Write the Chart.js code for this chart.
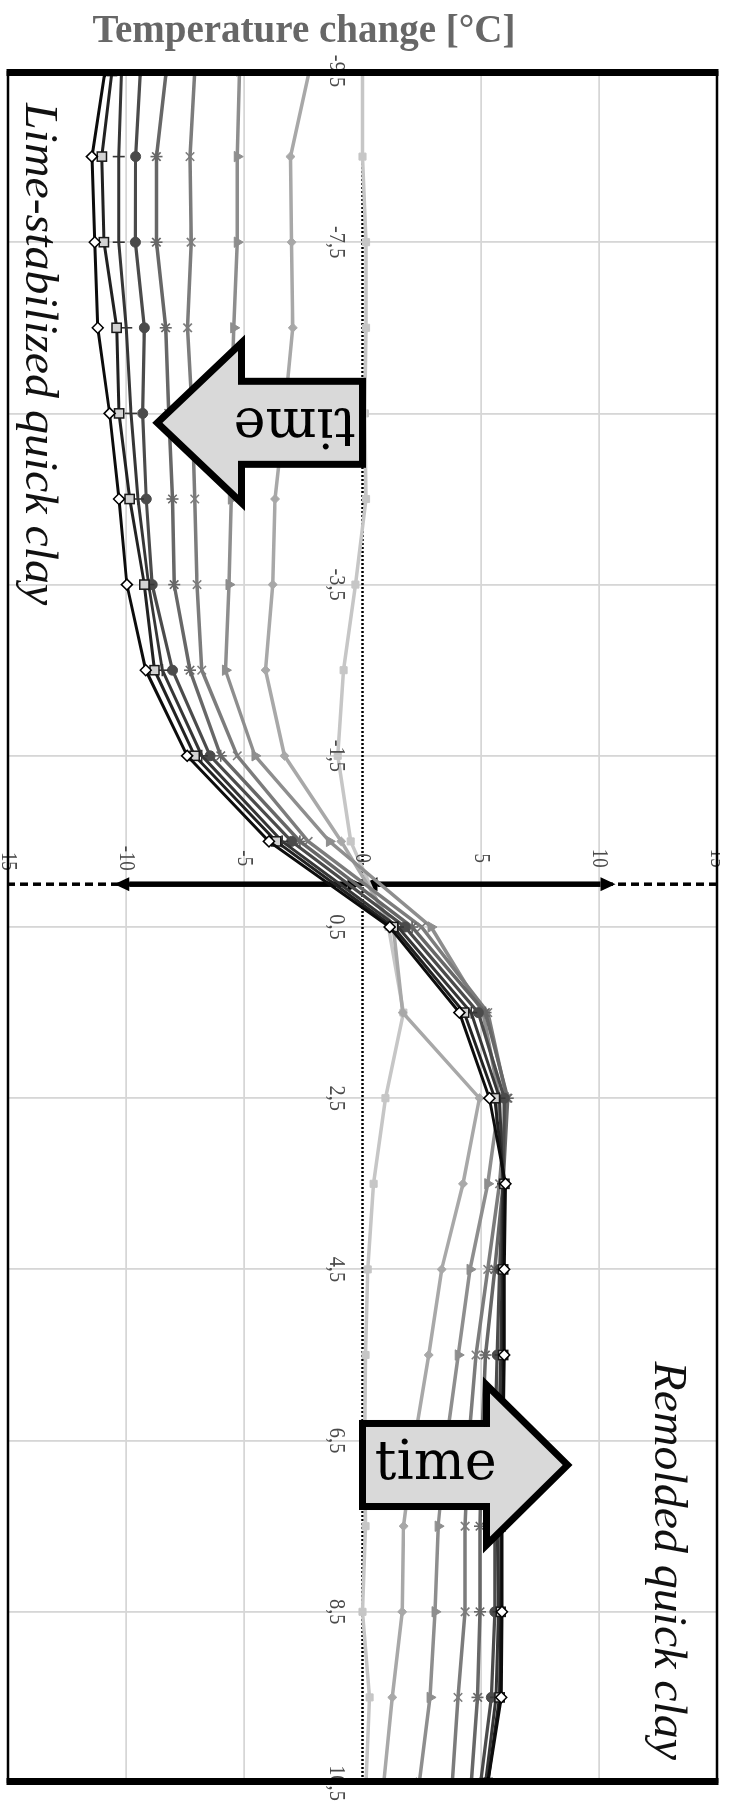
<!DOCTYPE html>
<html>
<head>
<meta charset="utf-8">
<script src="https://cdn.jsdelivr.net/npm/chart.js@4.4.1/dist/chart.umd.min.js"></script>
<style>
  html, body { margin: 0; padding: 0; background: #fff; }
  body { width: 729px; height: 1804px; position: relative; overflow: hidden; }
  /* the plot is laid out lying on its side and turned a quarter turn clockwise */
  #frame { position: absolute; left: 0; top: 0; width: 1804px; height: 729px;
           transform-origin: 0 0; transform: translate(729px, 0) rotate(90deg); }
  #title { position: absolute; left: 0; top: 9px; width: 608px; text-align: center;
           font: bold 39px "Liberation Serif", "Times New Roman", serif; line-height: 40px;
           color: #676767; white-space: nowrap; }
</style>
</head>
<body>
<div id="frame"><canvas id="c" width="1804" height="729"></canvas></div>
<div id="title">Temperature change [°C]</div>
<script>
// distance from the boundary (m) at which the temperature was logged
const distance = [-9.5, -8.5, -7.5, -6.5, -5.5, -4.5, -3.5, -2.5, -1.5, -0.5,
                  0.5, 1.5, 2.5, 3.5, 4.5, 5.5, 6.5, 7.5, 8.5, 9.5, 10.5];
const distanceTicks = [-9.5, -7.5, -5.5, -3.5, -1.5, 0.5, 2.5, 4.5, 6.5, 8.5, 10.5];
const tempTicks = [-15, -10, -5, 0, 5, 10, 15];

// temperature change profiles, earliest reading first
const curve1 = [0.0, 0.0, 0.15, 0.15, 0.1, 0.15, -0.3, -0.8, -1.05, -0.5,
                1.1, 1.73, 0.97, 0.47, 0.22, 0.13, 0.1, 0.13, 0.0, 0.3, 0.15];
const curve2 = [-2.25, -3.05, -3.0, -2.95, -3.3, -3.7, -3.8, -4.1, -3.3, -0.9,
                1.3, 1.7, 4.95, 4.25, 3.35, 2.8, 2.2, 1.74, 1.68, 1.26, 0.9];
const curve3 = [-5.2, -5.3, -5.3, -5.45, -5.55, -5.55, -5.65, -5.8, -4.55, -1.4,
                2.9, 5.1, 5.8, 5.3, 4.55, 4.05, 3.55, 3.2, 3.07, 2.86, 2.4];
const curve4 = [-7.1, -7.3, -7.25, -7.4, -7.2, -7.1, -7.0, -6.8, -5.3, -2.3,
                2.5, 5.3, 6.1, 5.8, 5.3, 4.8, 4.5, 4.34, 4.34, 4.04, 3.8];
const curve5 = [-8.3, -8.72, -8.72, -8.33, -8.2, -8.04, -7.97, -7.3, -6.0, -2.65,
                2.1, 5.2, 6.15, 5.95, 5.6, 5.2, 5.05, 4.97, 4.97, 4.87, 4.6];
const curve6 = [-9.4, -9.6, -9.61, -9.23, -9.3, -9.15, -8.9, -8.04, -6.45, -3.0,
                1.8, 4.9, 6.0, 5.95, 5.8, 5.7, 5.6, 5.6, 5.6, 5.45, 5.0];
const curve7 = [-10.2, -10.31, -10.31, -10.0, -9.8, -9.5, -9.05, -8.47, -6.8, -3.4,
                1.5, 4.6, 5.8, 5.95, 5.9, 5.85, 5.75, 5.7, 5.75, 5.65, 5.2];
const curve8 = [-10.6, -11.03, -10.94, -10.4, -10.3, -9.85, -9.23, -8.8, -7.1, -3.65,
                1.3, 4.3, 5.6, 6.0, 5.95, 5.95, 5.9, 5.85, 5.85, 5.8, 5.3];
const curve9 = [-10.9, -11.45, -11.33, -11.2, -10.7, -10.3, -9.97, -9.17, -7.42, -3.96,
                1.15, 4.1, 5.37, 6.05, 6.0, 6.0, 5.95, 5.9, 5.9, 5.87, 5.3];

const curves = [curve1, curve2, curve3, curve4, curve5, curve6, curve7, curve8, curve9];
const looks = [
  { line: '#c6c6c6', w: 3.5, style: 'rect',     r: 5,   fill: '#c6c6c6', edge: '#c6c6c6', ew: 1 },
  { line: '#a8a8a8', w: 3.5, style: 'rectRot',  r: 4.5, fill: '#a8a8a8', edge: '#a8a8a8', ew: 1 },
  { line: '#8e8e8e', w: 3.5, style: 'triangle', r: 6,   fill: '#8e8e8e', edge: '#8e8e8e', ew: 1 },
  { line: '#7c7c7c', w: 3.5, style: 'crossRot', r: 6,   fill: '#7c7c7c', edge: '#7c7c7c', ew: 1.6 },
  { line: '#676767', w: 3.5, style: 'star',     r: 6,   fill: '#676767', edge: '#676767', ew: 1.6 },
  { line: '#4b4b4b', w: 3.2, style: 'circle',   r: 5,   fill: '#4b4b4b', edge: '#4b4b4b', ew: 1 },
  { line: '#363636', w: 3,   style: 'cross',    r: 6,   fill: '#363636', edge: '#363636', ew: 1.6 },
  { line: '#222222', w: 3,   style: 'rect',     r: 6.5, fill: '#d2d2d2', edge: '#1a1a1a', ew: 1.5 },
  { line: '#0c0c0c', w: 3,   style: 'rectRot',  r: 5.5, fill: '#ffffff', edge: '#000000', ew: 1.5 }
];

const datasets = curves.map((arr, i) => ({
  label: 'profile ' + (i + 1),
  data: arr.map((t, k) => ({ x: distance[k], y: t })),
  borderColor: looks[i].line,
  borderWidth: looks[i].w,
  pointStyle: looks[i].style,
  pointRadius: looks[i].r,
  pointBackgroundColor: looks[i].fill,
  pointBorderColor: looks[i].edge,
  pointBorderWidth: looks[i].ew,
  tension: 0,
  fill: false,
  order: curves.length - i
}));

const fmtDist = v => v.toFixed(1).replace('.', ',');

function doubleArrow(ctx, x, ya, yb) {
  const L = 15, W = 7, dir = Math.sign(yb - ya);
  ctx.lineWidth = 5.5;
  ctx.beginPath();
  ctx.moveTo(x, ya + dir * L);
  ctx.lineTo(x, yb - dir * L);
  ctx.stroke();
  ctx.beginPath();
  ctx.moveTo(x, ya); ctx.lineTo(x - W, ya + dir * L); ctx.lineTo(x + W, ya + dir * L); ctx.closePath();
  ctx.moveTo(x, yb); ctx.lineTo(x - W, yb - dir * L); ctx.lineTo(x + W, yb - dir * L); ctx.closePath();
  ctx.fill();
}

function blockArrow(ctx, xs, ys, a) {
  const X = d => xs.getPixelForValue(d), Y = t => ys.getPixelForValue(t);
  const c = a.centre;
  const pts = [
    [X(c - a.bodyHalf), Y(a.base)], [X(c - a.bodyHalf), Y(a.neck)], [X(c - a.headHalf), Y(a.neck)],
    [X(c), Y(a.tip)],
    [X(c + a.headHalf), Y(a.neck)], [X(c + a.bodyHalf), Y(a.neck)], [X(c + a.bodyHalf), Y(a.base)]
  ];
  ctx.beginPath();
  pts.forEach((p, i) => i ? ctx.lineTo(p[0], p[1]) : ctx.moveTo(p[0], p[1]));
  ctx.closePath();
  ctx.fillStyle = '#d9d9d9';
  ctx.fill();
  ctx.lineWidth = 7;
  ctx.lineJoin = 'miter';
  ctx.strokeStyle = '#000';
  ctx.stroke();
  ctx.save();
  ctx.translate(X(a.textAt[0]), Y(a.textAt[1]));
  ctx.rotate(a.turn);
  ctx.fillStyle = '#000';
  ctx.font = '54px "DejaVu Serif", serif';
  ctx.textAlign = 'center';
  ctx.textBaseline = 'middle';
  ctx.fillText(a.text, 0, 0);
  ctx.restore();
}

const decorations = {
  id: 'decorations',
  beforeDatasetsDraw(chart) {
    const { ctx, chartArea: a, scales: { x, y } } = chart;
    ctx.save();
    // zero temperature change: dotted line
    const y0 = y.getPixelForValue(0);
    ctx.strokeStyle = '#000';
    ctx.lineWidth = 2.5;
    ctx.setLineDash([2, 2]);
    ctx.beginPath(); ctx.moveTo(a.left, y0); ctx.lineTo(a.right, y0); ctx.stroke();
    // boundary between the two soils: dashed line with span arrows
    const x0 = x.getPixelForValue(0);
    ctx.lineWidth = 3.5;
    ctx.setLineDash([8, 5]);
    ctx.beginPath(); ctx.moveTo(x0, a.top); ctx.lineTo(x0, a.bottom); ctx.stroke();
    ctx.setLineDash([]);
    ctx.fillStyle = '#000';
    doubleArrow(ctx, x0, y.getPixelForValue(-10.5), y.getPixelForValue(0));
    doubleArrow(ctx, x0, y.getPixelForValue(0), y.getPixelForValue(10.7));
    ctx.restore();
  },
  afterDatasetsDraw(chart) {
    const { ctx, chartArea: a, scales: { x, y } } = chart;
    const x0 = x.getPixelForValue(0), y0 = y.getPixelForValue(0);
    ctx.save();
    ctx.beginPath(); ctx.rect(0, 9, chart.width, chart.height - 9); ctx.clip();
    ctx.fillStyle = '#4a4a4a';
    ctx.textAlign = 'center';
    ctx.textBaseline = 'middle';
    // distance tick labels beside the zero line
    ctx.font = '24px "Liberation Serif", serif';
    distanceTicks.forEach(v => {
      ctx.save();
      ctx.translate(x.getPixelForValue(v), y0 + 26.5);
      ctx.scale(0.85, 1);
      ctx.fillText(fmtDist(v), 0, 0);
      ctx.restore();
    });
    // temperature tick labels beside the boundary line
    ctx.font = '23px "Liberation Serif", serif';
    tempTicks.forEach(v => {
      ctx.save();
      ctx.translate(x0 - 26, y.getPixelForValue(v));
      ctx.scale(0.82, 1);
      ctx.fillText(String(v), 0, 0);
      ctx.restore();
    });
    ctx.restore();

    ctx.save();
    // frame: heavy ends, thin sides
    ctx.strokeStyle = '#000';
    ctx.lineWidth = 2.5;
    ctx.beginPath();
    ctx.moveTo(a.left, a.top); ctx.lineTo(a.right, a.top);
    ctx.moveTo(a.left, a.bottom); ctx.lineTo(a.right, a.bottom);
    ctx.stroke();
    ctx.lineWidth = 7;
    ctx.beginPath();
    ctx.moveTo(a.left + 1.5, a.top - 1.5); ctx.lineTo(a.left + 1.5, a.bottom + 1.5);
    ctx.moveTo(a.right - 1.5, a.top - 1.5); ctx.lineTo(a.right - 1.5, a.bottom + 1.5);
    ctx.stroke();

    // "time" arrows
    blockArrow(ctx, x, y, { centre: -5.39, base: 0, neck: -5.12, tip: -8.68, bodyHalf: 0.485, headHalf: 0.935,
                            text: 'time', textAt: [-5.39, -2.87], turn: Math.PI / 2 });
    blockArrow(ctx, x, y, { centre: 6.785, base: 0, neck: 5.25, tip: 8.68, bodyHalf: 0.485, headHalf: 0.935,
                            text: 'time', textAt: [6.785, 3.1], turn: -Math.PI / 2 });

    // soil labels
    ctx.fillStyle = '#111';
    ctx.font = 'italic 46px "Liberation Serif", serif';
    ctx.textBaseline = 'alphabetic';
    ctx.textAlign = 'left';
    ctx.save();
    ctx.translate(a.left + 32, a.bottom - 18);
    ctx.scale(1.04, 1);
    ctx.fillText('Lime-stabilized quick clay', 0, 0);
    ctx.restore();
    ctx.textAlign = 'right';
    ctx.save();
    ctx.translate(a.right - 23, a.top + 62);
    ctx.scale(1.04, 1);
    ctx.fillText('Remolded quick clay', 0, 0);
    ctx.restore();
    ctx.restore();
  }
};

new Chart(document.getElementById('c'), {
  type: 'line',
  data: { datasets },
  options: {
    responsive: false,
    animation: false,
    events: [],
    layout: { padding: { left: 71, right: 21, top: 12, bottom: 5 } },
    plugins: { legend: { display: false }, tooltip: { enabled: false } },
    scales: {
      x: {
        type: 'linear', min: -9.5, max: 10.5,
        afterBuildTicks: s => { s.ticks = distanceTicks.map(v => ({ value: v })); },
        ticks: { display: false },
        border: { display: false },
        grid: { drawTicks: false, lineWidth: 1.8,
                color: c => (c.tick && (c.tick.value === -9.5 || c.tick.value === 10.5)) ? 'rgba(0,0,0,0)' : '#d6d6d6' }
      },
      y: {
        type: 'linear', min: -15, max: 15,
        afterBuildTicks: s => { s.ticks = tempTicks.map(v => ({ value: v })); },
        ticks: { display: false },
        border: { display: false },
        grid: { drawTicks: false, lineWidth: 1.8,
                color: c => (c.tick && [-15, 0, 15].includes(c.tick.value)) ? 'rgba(0,0,0,0)' : '#d6d6d6' }
      }
    }
  },
  plugins: [decorations]
});
</script>
</body>
</html>
